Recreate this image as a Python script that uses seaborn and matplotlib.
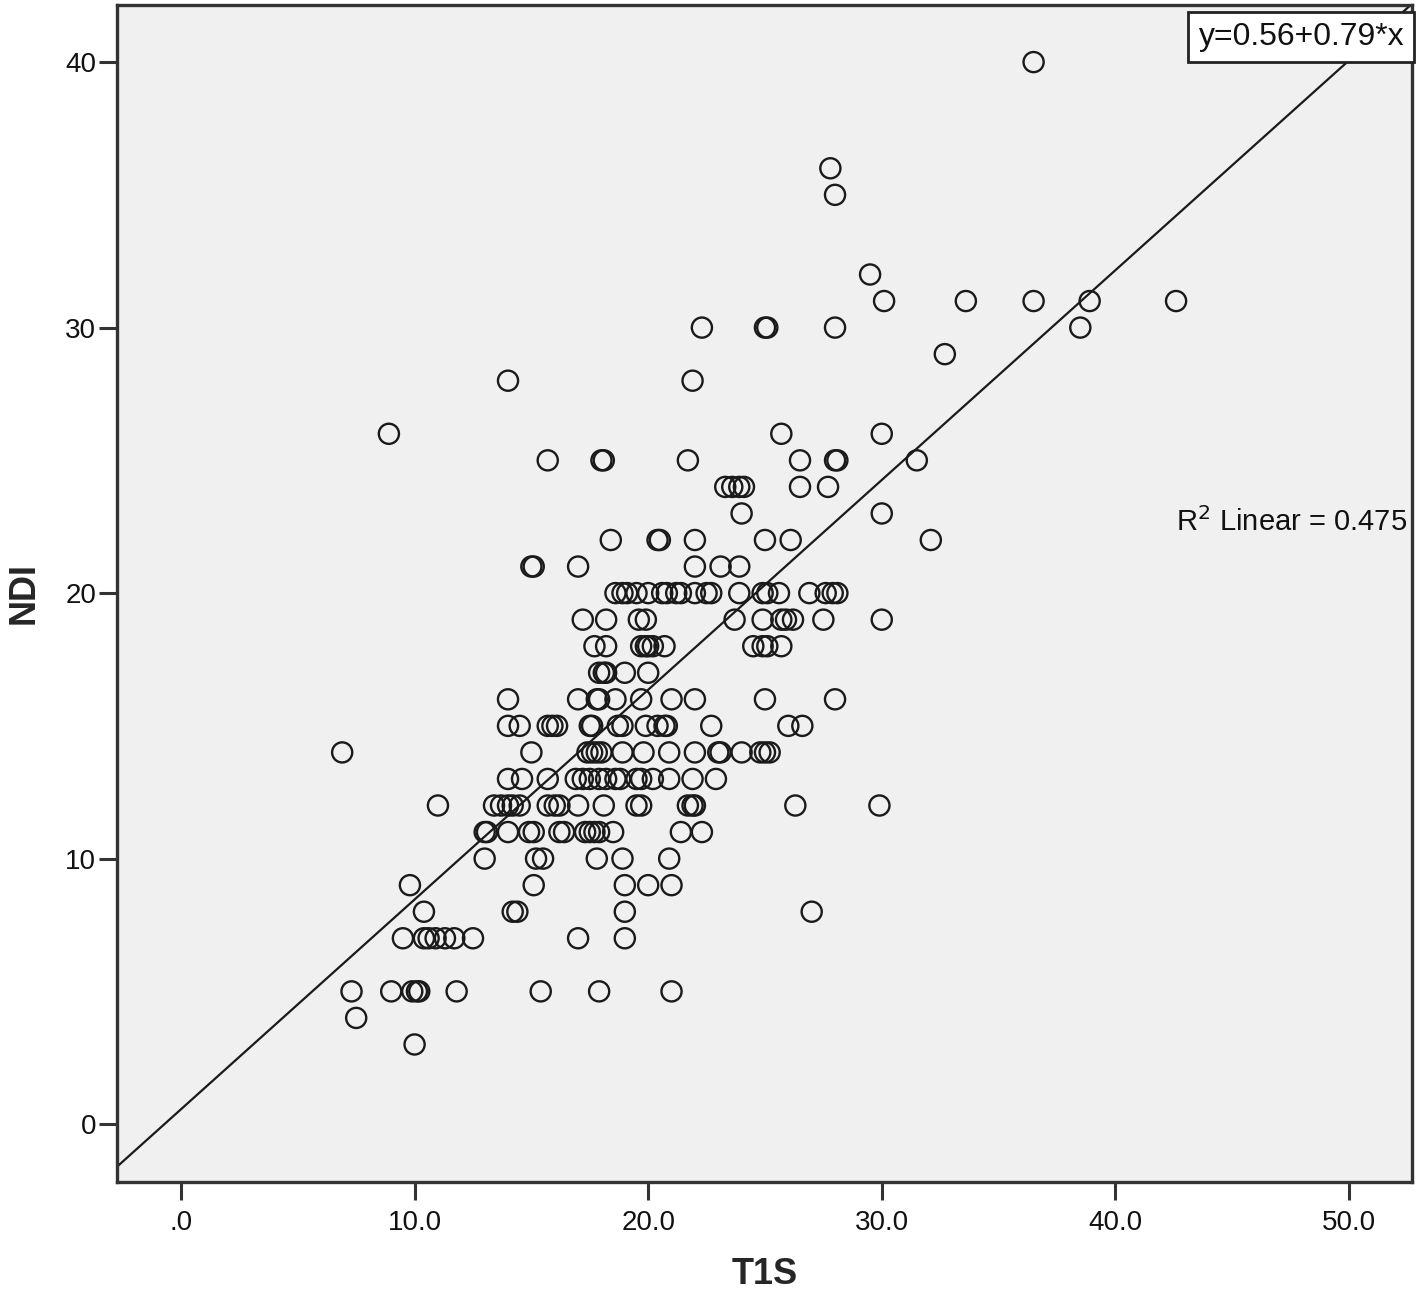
import numpy as np
import pandas as pd
import matplotlib
matplotlib.use("Agg")
import matplotlib.pyplot as plt
import seaborn as sns

# ---- data (NDI vs T1S) ----
t1s = [
    36.5,
    27.8,
    28.0,
    29.5,
    30.1, 33.6, 36.5, 38.9, 42.6,
    22.3, 25.0, 25.1, 28.0, 38.5,
    32.7,
    14.0, 21.9,
    8.9, 25.7, 30.0,
    15.7, 18.0, 18.1, 21.7, 26.5, 28.0, 28.1, 31.5,
    23.3, 23.6, 23.9, 24.1, 26.5, 27.7,
    24.0, 30.0,
    18.4, 20.4, 20.5, 22.0, 25.0, 26.1, 32.1,
    15.0, 15.1, 17.0, 22.0, 23.1, 23.9,
    18.6, 18.9, 19.1, 19.5, 20.0, 20.6, 20.8, 21.2, 21.4, 22.0, 22.5, 22.7, 23.9, 24.9, 25.1, 25.6, 26.9, 27.6, 27.9, 28.1,
    17.2, 18.2, 19.6, 19.9, 23.7, 24.9, 25.7, 25.9, 26.2, 27.5, 30.0,
    17.7, 18.2, 19.7, 19.9, 20.0, 20.2, 20.7, 24.5, 24.9, 25.1, 25.7,
    17.9, 18.1, 18.2, 19.0, 20.0,
    14.0, 17.0, 17.8, 17.9, 18.6, 19.7, 21.0, 22.0, 25.0, 28.0,
    14.0, 14.5, 15.7, 15.9, 16.1, 17.5, 17.6, 18.7, 18.9, 19.9, 20.4, 20.7, 20.8, 22.7, 26.0, 26.6,
    6.9, 15.0, 17.4, 17.6, 17.8, 18.0, 18.9, 19.8, 20.9, 22.0, 23.0, 23.1, 24.0, 24.8, 25.0, 25.2,
    14.0, 14.6, 15.7, 16.9, 17.2, 17.5, 17.9, 18.2, 18.6, 18.8, 19.5, 19.7, 20.2, 20.9, 21.9, 22.9,
    11.0, 13.4, 13.7, 14.0, 14.2, 14.5, 15.7, 16.0, 16.2, 17.0, 18.1, 19.5, 19.7, 21.7, 21.9, 22.0, 26.3, 29.9,
    13.0, 13.1, 14.0, 14.9, 15.1, 16.2, 16.4, 17.3, 17.5, 17.7, 17.9, 18.5, 21.4, 22.3,
    13.0, 15.2, 15.5, 17.8, 18.9, 20.9,
    9.8, 15.1, 19.0, 20.0, 21.0,
    10.4, 14.2, 14.4, 19.0, 27.0,
    9.5, 10.4, 10.6, 10.9, 11.3, 11.7, 12.5, 17.0, 19.0,
    7.3, 9.0, 9.9, 10.1, 10.2, 11.8, 15.4, 17.9, 21.0,
    7.5,
    10.0,
]
ndi = (
    [40] * 1 + [36] * 1 + [35] * 1 + [32] * 1 + [31] * 5 + [30] * 5 + [29] * 1
    + [28] * 2 + [26] * 3 + [25] * 8 + [24] * 6 + [23] * 2 + [22] * 7 + [21] * 6
    + [20] * 20 + [19] * 11 + [18] * 11 + [17] * 5 + [16] * 10 + [15] * 16
    + [14] * 16 + [13] * 16 + [12] * 18 + [11] * 14 + [10] * 6 + [9] * 5
    + [8] * 5 + [7] * 9 + [5] * 9 + [4] * 1 + [3] * 1
)

fit_intercept = 0.56
fit_slope = 0.79
r2_linear = 0.475

x_ticks = [0, 10, 20, 30, 40, 50]
x_ticklabels = [".0", "10.0", "20.0", "30.0", "40.0", "50.0"]
y_ticks = [0, 10, 20, 30, 40]
y_ticklabels = ["0", "10", "20", "30", "40"]

df = pd.DataFrame({"T1S": t1s, "NDI": ndi})

# ---- styling ----
sns.set_theme(style="ticks")
plt.rcParams["font.family"] = ["Liberation Sans", "DejaVu Sans"]

fig = plt.figure(figsize=(14.18, 13.0), dpi=100)
ax = fig.add_axes([117 / 1418, 1 - 1182 / 1300, (1412 - 117) / 1418, (1182 - 5) / 1300])
ax.set_facecolor("#f0f0f0")

sns.scatterplot(data=df, x="T1S", y="NDI", ax=ax, s=210, marker="o",
                facecolors="none", edgecolor="#1a1a1a", linewidth=1.7, zorder=3)

xlim = (-2.74, 52.7)
ylim = (-2.18, 42.15)
ax.set_xlim(*xlim)
ax.set_ylim(*ylim)

xs = np.array(xlim)
ax.plot(xs, fit_intercept + fit_slope * xs, color="#1a1a1a", lw=1.6, zorder=2)

ax.set_xticks(x_ticks)
ax.set_xticklabels(x_ticklabels)
ax.set_yticks(y_ticks)
ax.set_yticklabels(y_ticklabels)
ax.tick_params(axis="both", direction="out", length=13, width=2.2,
               color="#333333", labelsize=20, labelcolor="#111111")
ax.tick_params(axis="y", pad=2)
ax.tick_params(axis="x", pad=7)

for sp in ax.spines.values():
    sp.set_color("#333333")
    sp.set_linewidth(2.4)

ax.set_xlabel("T1S", fontsize=26, fontweight="bold")
ax.set_ylabel("NDI", fontsize=26, fontweight="bold")
ax.xaxis.set_label_coords((765 - 117) / 1295, -(1275 - 1182) / 1177)
ax.yaxis.set_label_coords(-(117 - 24) / 1295, (1182 - 593) / 1177)
ax.xaxis.label.set_va("center")
ax.yaxis.label.set_va("center")

ax.text(0.994, 0.973, f"y={fit_intercept:.2f}+{fit_slope:.2f}*x", transform=ax.transAxes,
        ha="right", va="center", fontsize=23, color="#111111",
        bbox=dict(boxstyle="square,pad=0.32", facecolor="white", edgecolor="#222222", linewidth=2),
        zorder=5)
ax.text(0.996, (22.67 - ylim[0]) / (ylim[1] - ylim[0]),
        f"R$^2$ Linear = {r2_linear:.3f}", transform=ax.transAxes,
        ha="right", va="center", fontsize=21, color="#111111", zorder=5)

fig.savefig("out.png", dpi=100, facecolor="white")
